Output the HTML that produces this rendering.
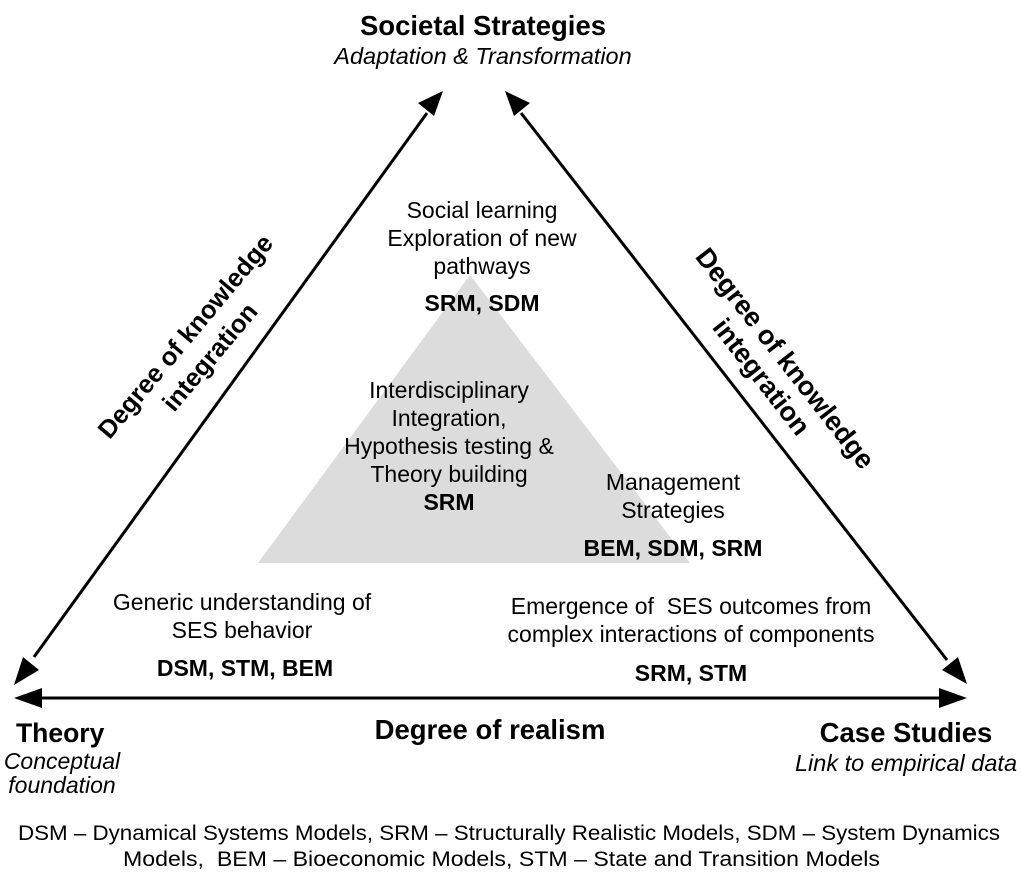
<!DOCTYPE html>
<html><head><meta charset="utf-8"><style>
html,body{margin:0;padding:0;background:#fff;}
svg{display:block;}
text{font-family:"Liberation Sans",Arial,sans-serif;fill:#000;}
.b{font-weight:bold;}
.i{font-style:italic;}
</style></head><body>
<svg width="1023" height="891" viewBox="0 0 1023 891" xmlns="http://www.w3.org/2000/svg">
<polygon points="470,275 258,563 690,563" fill="#dcdcdc"/>
<g stroke="#000" stroke-width="3" fill="none">
<line x1="34" y1="657" x2="427" y2="113"/>
<line x1="521" y1="113" x2="947" y2="660"/>
<line x1="40" y1="698" x2="942" y2="698"/>
</g>
<g fill="#000">
<polygon points="443,91 418,103 434,116"/>
<polygon points="14,685 23,657 39,670"/>
<polygon points="505,91 514,116 530,103"/>
<polygon points="967,684 958,657 942,670"/>
<polygon points="14,698 42,688 42,708"/>
<polygon points="967,698 939,688 939,708"/>
</g>

<text x="483" y="35" text-anchor="middle" class="b" font-size="27.5">Societal Strategies</text>
<text x="483" y="64" text-anchor="middle" class="i" font-size="23.5">Adaptation &amp; Transformation</text>

<g font-size="23" text-anchor="middle">
<text x="482" y="218">Social learning</text>
<text x="482" y="246">Exploration of new</text>
<text x="482" y="274">pathways</text>
<text x="482" y="311" class="b">SRM, SDM</text>

<text x="449" y="398">Interdisciplinary</text>
<text x="449" y="426">Integration,</text>
<text x="449" y="454">Hypothesis testing &amp;</text>
<text x="449" y="482">Theory building</text>
<text x="449" y="510" class="b">SRM</text>

<text x="673" y="490">Management</text>
<text x="673" y="518">Strategies</text>
<text x="673" y="556" class="b">BEM, SDM, SRM</text>

<text x="242" y="610">Generic understanding of</text>
<text x="242" y="638">SES behavior</text>
<text x="245" y="676" class="b">DSM, STM, BEM</text>

<text x="691" y="614">Emergence of&#160; SES outcomes from</text>
<text x="691" y="642">complex interactions of components</text>
<text x="691" y="681" class="b">SRM, STM</text>

<text x="490" y="739" class="b" font-size="27.5">Degree of realism</text>
</g>

<text x="16" y="742" class="b" font-size="26.5">Theory</text>
<text x="62" y="769" text-anchor="middle" class="i" font-size="23">Conceptual</text>
<text x="62" y="793" text-anchor="middle" class="i" font-size="23">foundation</text>

<text x="906" y="742" text-anchor="middle" class="b" font-size="27.5">Case Studies</text>
<text x="906" y="771" text-anchor="middle" class="i" font-size="23.5">Link to empirical data</text>

<g transform="translate(192,342) rotate(-50)" text-anchor="middle" class="b" font-size="25.5">
<text x="0" y="0">Degree of knowledge</text>
<text x="0" y="32">integration</text>
</g>
<g transform="translate(778,364) rotate(52)" text-anchor="middle" class="b" font-size="27">
<text x="0" y="0">Degree of knowledge</text>
<text x="0" y="30">integration</text>
</g>

<text x="18" y="840" font-size="21" textLength="982" lengthAdjust="spacingAndGlyphs">DSM – Dynamical Systems Models, SRM – Structurally Realistic Models, SDM – System Dynamics</text>
<text x="123" y="866" font-size="21" textLength="757" lengthAdjust="spacingAndGlyphs">Models,&#160; BEM – Bioeconomic Models, STM – State and Transition Models</text>
</svg>
</body></html>
